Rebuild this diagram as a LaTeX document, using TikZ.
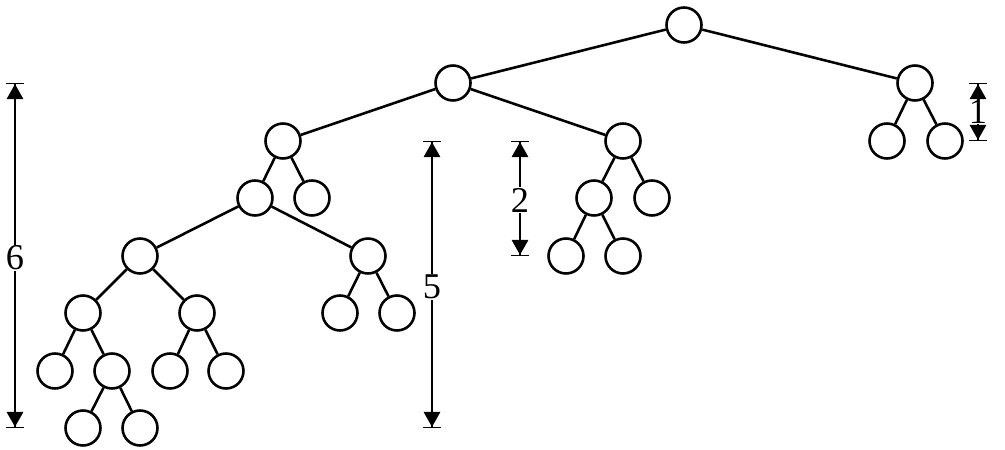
\documentclass[tikz,border=0pt]{standalone}
\usepackage{fontspec}
\setmainfont{Liberation Serif}
\usetikzlibrary{arrows.meta}

\tikzset{
  vertex/.style={circle,draw,line width=2.2pt,minimum size=1.05cm,inner sep=0pt},
  edge/.style={line width=2.2pt},
  dimline/.style={line width=1pt,
    {Bar[width=0.54cm,line width=1pt]Triangle[width=0.5cm,length=0.45cm]}-{Triangle[width=0.5cm,length=0.45cm]Bar[width=0.54cm,line width=1pt]}},
  dimlabel/.style={fill=white,inner sep=1pt,font=\fontsize{31}{34}\selectfont}
}

\begin{document}
\begin{tikzpicture}[x=0.03cm,y=-0.03cm]
        \useasboundingbox (0,0) rectangle (1005,450);

        % tree
        \node[vertex] (r) at (684,25) {};
        \node[vertex] (a) at (453,83) {};
        \node[vertex] (b) at (915,83) {};
        \node[vertex] (b1) at (887,141) {};
        \node[vertex] (b2) at (945,141) {};
        \node[vertex] (c) at (283,141) {};
        \node[vertex] (d) at (623,141) {};
        \node[vertex] (e) at (255,198) {};
        \node[vertex] (c2) at (312,198) {};
        \node[vertex] (d1) at (594,198) {};
        \node[vertex] (d2) at (652,198) {};
        \node[vertex] (d11) at (566,256) {};
        \node[vertex] (d12) at (623,256) {};
        \node[vertex] (f) at (140,256) {};
        \node[vertex] (g) at (368,256) {};
        \node[vertex] (g1) at (340,313) {};
        \node[vertex] (g2) at (397,313) {};
        \node[vertex] (h) at (83,313) {};
        \node[vertex] (i) at (197,313) {};
        \node[vertex] (h1) at (55,371) {};
        \node[vertex] (j) at (112,371) {};
        \node[vertex] (i1) at (170,371) {};
        \node[vertex] (i2) at (226,371) {};
        \node[vertex] (j1) at (83,428) {};
        \node[vertex] (j2) at (140,428) {};

        \foreach \p/\q in {r/a,r/b,b/b1,b/b2,a/c,a/d,c/e,c/c2,d/d1,d/d2,d1/d11,d1/d12,
                           e/f,e/g,g/g1,g/g2,f/h,f/i,h/h1,h/j,i/i1,i/i2,j/j1,j/j2}
          \draw[edge] (\p) -- (\q);

        % heights
        \coordinate (six top) at (15,83);
        \coordinate (six bot) at (15,428);
        \draw[dimline] (six top) -- (six bot);
        \node[dimlabel] (six) at (15,258) {6};

        \coordinate (five top) at (432,141);
        \coordinate (five bot) at (432,428);
        \draw[dimline] (five top) -- (five bot);
        \node[dimlabel] (five) at (432,287) {5};

        \coordinate (two top) at (520,141);
        \coordinate (two bot) at (520,256);
        \draw[dimline] (two top) -- (two bot);
        \node[dimlabel] (two) at (520,200) {2};

        \coordinate (one top) at (978,83);
        \coordinate (one bot) at (978,141);
        \draw[dimline] (one top) -- (one bot);
        \node[dimlabel,inner sep=0pt] (one) at (978,112) {1};
    \end{tikzpicture}
\end{document}
